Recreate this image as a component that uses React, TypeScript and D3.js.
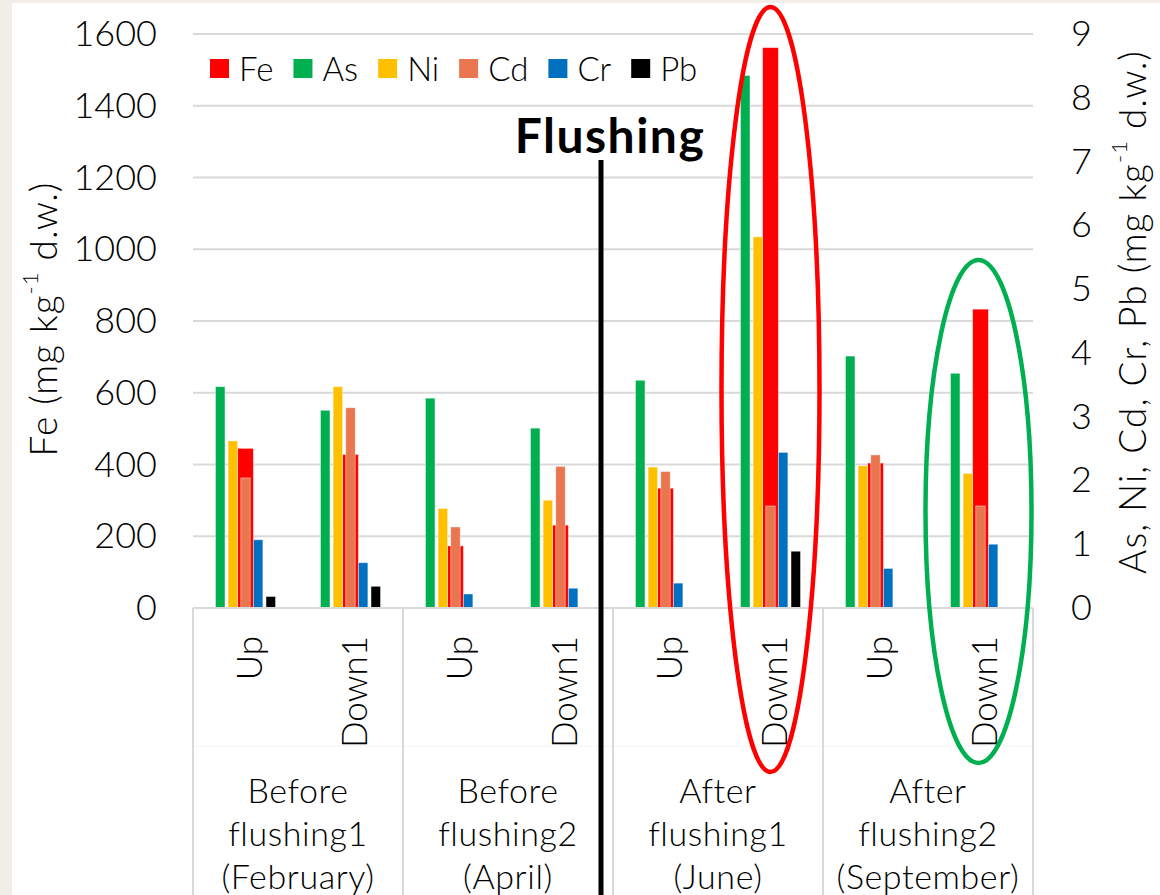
import { useRef, useEffect } from 'react';
import * as d3 from 'd3';

const subLabels = ['Up', 'Down1', 'Up', 'Down1', 'Up', 'Down1', 'Up', 'Down1'];
const groupLabels = [
  ['Before', 'flushing1', '(February)'],
  ['Before', 'flushing2', '(April)'],
  ['After', 'flushing1', '(June)'],
  ['After', 'flushing2', '(September)'],
];

// primary axis (Fe)
const fe = [445, 428, 173, 231, 334, 1562, 404, 833];
// secondary axis
const as = [3.47, 3.10, 3.29, 2.82, 3.57, 8.35, 3.95, 3.68];
const ni = [2.62, 3.47, 1.56, 1.69, 2.21, 5.82, 2.23, 2.11];
const cd = [2.04, 3.14, 1.27, 2.22, 2.14, 1.60, 2.40, 1.60];
const cr = [1.07, 0.71, 0.22, 0.31, 0.39, 2.44, 0.62, 1.00];
const pb = [0.18, 0.34, 0, 0, 0, 0.89, 0, 0];

const leftTicks = [0, 200, 400, 600, 800, 1000, 1200, 1400, 1600];
const rightTicks = [0, 1, 2, 3, 4, 5, 6, 7, 8, 9];

const secondary = [
  { name: 'As', values: as, color: '#00B050' },
  { name: 'Ni', values: ni, color: '#FFC000' },
  { name: 'Cd', values: cd, color: '#E9764F' },
  { name: 'Cr', values: cr, color: '#0070C0' },
  { name: 'Pb', values: pb, color: '#000000' },
];
const legendItems = [
  { name: 'Fe', color: '#FF0000' },
  ...secondary.map(s => ({ name: s.name, color: s.color })),
];

const FONT = 'Lato, "Open Sans", sans-serif';
const WEIGHT = 300;

export default function App() {
  const svgRef = useRef<SVGSVGElement>(null);

  useEffect(() => {
    const width = 1160;
    const height = 895;
    const plot = { left: 193, right: 1033, top: 34, bottom: 608 };

    const svg = d3.select(svgRef.current);
    svg.selectAll('*').remove();
    svg.attr('width', width).attr('height', height);

    // background
    svg.append('rect').attr('width', width).attr('height', height).attr('fill', '#F1EEE7');
    svg.append('rect').attr('x', 12).attr('y', 3).attr('width', width - 12).attr('height', height - 3).attr('fill', '#fff');

    const idx = d3.range(fe.length);
    const x = d3.scaleBand<number>().domain(idx).range([plot.left, plot.right]);
    const xFe = d3.scaleBand<number>().domain(idx).range([plot.left, plot.right])
      .paddingInner(0.85).paddingOuter(0.425);
    const xSub = d3.scaleBand<string>().domain(secondary.map(s => s.name))
      .range([0, 60]).paddingInner(0.25);
    const yL = d3.scaleLinear().domain([0, 1600]).range([plot.bottom, plot.top]);
    const yR = d3.scaleLinear().domain([0, 9]).range([plot.bottom, plot.top]);

    // gridlines
    svg.append('g').selectAll('line').data(leftTicks.slice(1)).enter().append('line')
      .attr('x1', plot.left).attr('x2', plot.right)
      .attr('y1', d => yL(d)).attr('y2', d => yL(d))
      .attr('stroke', '#D9D9D9').attr('stroke-width', 2);

    // left axis
    const gl = svg.append('g').attr('transform', `translate(157,0)`)
      .call(d3.axisLeft(yL).tickValues(leftTicks).tickFormat(d3.format('d')).tickSize(0).tickPadding(0));
    gl.select('.domain').remove();
    gl.selectAll('text').attr('font-family', FONT).attr('font-weight', WEIGHT)
      .attr('font-size', 36).attr('fill', '#000');

    // right axis
    const gr = svg.append('g').attr('transform', `translate(1071,0)`)
      .call(d3.axisRight(yR).tickValues(rightTicks).tickSize(0).tickPadding(0));
    gr.select('.domain').remove();
    gr.selectAll('text').attr('font-family', FONT).attr('font-weight', WEIGHT)
      .attr('font-size', 36).attr('fill', '#000');

    // Fe bars (primary, behind)
    svg.append('g').selectAll('rect').data(fe).enter().append('rect')
      .attr('x', (d, i) => xFe(i)!)
      .attr('width', xFe.bandwidth())
      .attr('y', d => yL(d))
      .attr('height', d => yL(0) - yL(d))
      .attr('fill', '#FF0000')
      .attr('stroke', '#fff').attr('stroke-opacity', 0.5).attr('stroke-width', 0.8);

    // secondary bars
    secondary.forEach(s => {
      svg.append('g').selectAll('rect').data(s.values.map((v, i) => ({ v, i })).filter(d => d.v > 0))
        .enter().append('rect')
        .attr('x', d => x(d.i)! + x.bandwidth() / 2 - 30 + xSub(s.name)!)
        .attr('width', xSub.bandwidth())
        .attr('y', d => yR(d.v))
        .attr('height', d => yR(0) - yR(d.v))
        .attr('fill', s.color)
        .attr('stroke', '#fff').attr('stroke-opacity', 0.5).attr('stroke-width', 0.8);
    });

    // category axis
    svg.append('line').attr('x1', plot.left).attr('x2', plot.right)
      .attr('y1', plot.bottom).attr('y2', plot.bottom)
      .attr('stroke', '#D9D9D9').attr('stroke-width', 2);
    svg.append('line').attr('x1', plot.left).attr('x2', plot.right)
      .attr('y1', 746).attr('y2', 746)
      .attr('stroke', '#F3F3F3').attr('stroke-width', 1);
    const groupEdges = d3.range(groupLabels.length + 1).map(g => plot.left + g * 2 * x.bandwidth());
    svg.append('g').selectAll('line').data(groupEdges).enter().append('line')
      .attr('x1', d => d).attr('x2', d => d)
      .attr('y1', plot.bottom).attr('y2', height)
      .attr('stroke', '#D9D9D9').attr('stroke-width', 2);

    svg.append('g').selectAll('text').data(subLabels).enter().append('text')
      .attr('transform', (d, i) => `translate(${x(i)! + x.bandwidth() / 2 + 2},636) rotate(-90)`)
      .attr('text-anchor', 'end')
      .attr('dominant-baseline', 'central')
      .attr('font-family', FONT).attr('font-weight', WEIGHT).attr('font-size', 35)
      .text(d => d);

    groupLabels.forEach((lines, g) => {
      const cx = plot.left + (g * 2 + 1) * x.bandwidth();
      const t = svg.append('text').attr('text-anchor', 'middle')
        .attr('font-family', FONT).attr('font-weight', WEIGHT)
        .attr('font-size', 34).attr('letter-spacing', 0.6);
      lines.forEach((ln, k) => {
        t.append('tspan').attr('x', cx).attr('y', 803 + k * 43).text(ln);
      });
    });

    // axis titles
    const title = (tx: number, ty: number, main: string) => {
      const t = svg.append('text')
        .attr('transform', `translate(${tx},${ty}) rotate(-90)`)
        .attr('text-anchor', 'middle').attr('dominant-baseline', 'central')
        .attr('font-family', FONT).attr('font-weight', WEIGHT)
        .attr('font-size', 37).attr('letter-spacing', 1);
      t.append('tspan').text(main);
      t.append('tspan').attr('font-size', 22).attr('dy', -13).text('-1');
      t.append('tspan').attr('dy', 13).text(' d.w.)');
    };
    title(42, 319, 'Fe (mg kg');
    title(1131, 312, 'As, Ni, Cd, Cr, Pb (mg kg');

    // legend
    const lg = svg.append('g');
    let lx = 210;
    legendItems.forEach(item => {
      lg.append('rect').attr('x', lx).attr('y', 59).attr('width', 19).attr('height', 19).attr('fill', item.color);
      const t = lg.append('text').attr('x', lx + 29).attr('y', 81)
        .attr('font-family', FONT).attr('font-weight', WEIGHT).attr('font-size', 33).text(item.name);
      const w = (t.node() as SVGTextElement).getComputedTextLength();
      lx += 29 + w + 20;
    });

    // flushing marker
    const flushX = groupEdges[2] - 12;
    svg.append('line').attr('x1', flushX).attr('x2', flushX).attr('y1', 160).attr('y2', height)
      .attr('stroke', '#000').attr('stroke-width', 5);
    svg.append('text').attr('x', flushX + 9).attr('y', 153).attr('text-anchor', 'middle')
      .attr('font-family', FONT).attr('font-size', 48).attr('font-weight', 'bold')
      .attr('letter-spacing', 1.5)
      .text('Flushing');

    // highlight ellipses
    const redTop = 7, redBottom = 772;
    svg.append('ellipse')
      .attr('cx', x(5)! + x.bandwidth() / 2)
      .attr('cy', (redTop + redBottom) / 2)
      .attr('rx', 49).attr('ry', (redBottom - redTop) / 2)
      .attr('fill', 'none').attr('stroke', '#FF0000').attr('stroke-width', 4.5);
    const grTop = 260, grBottom = 763;
    svg.append('ellipse')
      .attr('cx', x(7)! + x.bandwidth() / 2 - 2)
      .attr('cy', (grTop + grBottom) / 2)
      .attr('rx', 53).attr('ry', (grBottom - grTop) / 2)
      .attr('fill', 'none').attr('stroke', '#00B050').attr('stroke-width', 4.5);
  }, []);

  return <svg ref={svgRef} style={{ position: 'absolute', left: 0, top: 0 }} />;
}
